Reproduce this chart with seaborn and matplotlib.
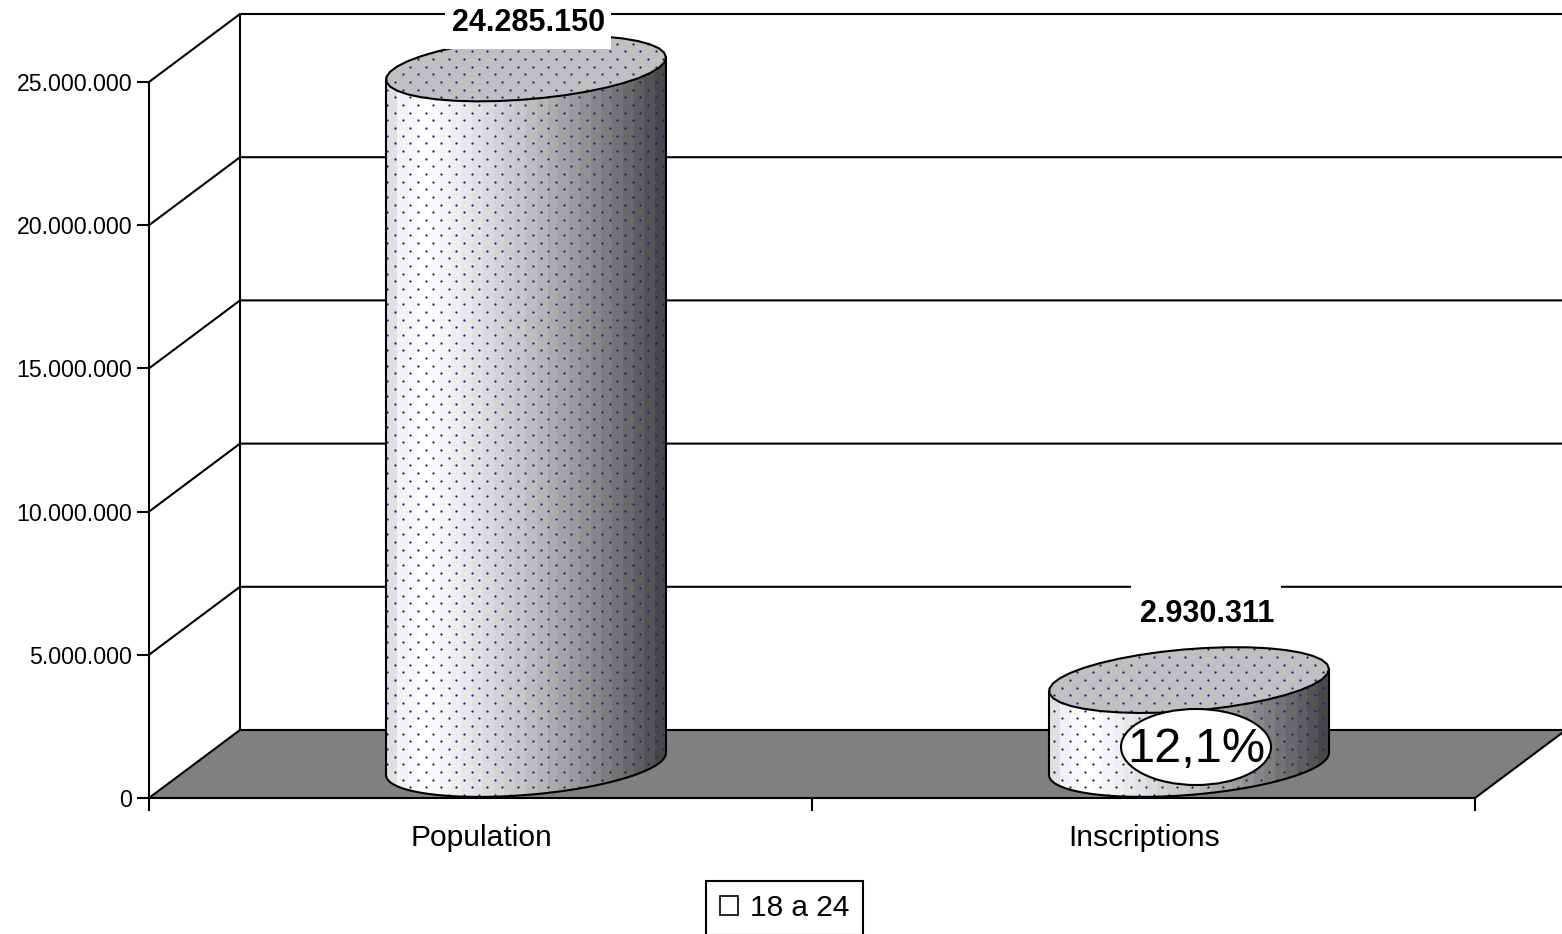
import numpy as np
import pandas as pd
import matplotlib.pyplot as plt
import seaborn as sns
from matplotlib.patches import Polygon, Rectangle, Ellipse, Patch

# Data
categories = ['Population', 'Inscriptions']
values = [24285150, 2930311]
value_labels = ['24.285.150', '2.930.311']
y_ticks = [0, 5000000, 10000000, 15000000, 20000000, 25000000]
y_tick_labels = ['0', '5.000.000', '10.000.000', '15.000.000', '20.000.000', '25.000.000']
series_name = '18 a 24'
share_label = '12,1%'

sns.set_theme(style='white')
plt.rcParams['font.family'] = ['Liberation Sans', 'DejaVu Sans']

W, H = 1562, 934
fig = plt.figure(figsize=(W / 100, H / 100), dpi=100)
ax = fig.add_axes([149 / W, (H - 798) / H, (1475 - 149) / W, (798 - 82) / H])

df = pd.DataFrame({'cat': categories, 'val': values})
sns.barplot(data=df, x='cat', y='val', width=280 / 663, ax=ax)

# size of one pixel in data units
PX = 2 / 1326
PY = 25000000 / 716
DEPTH_X = 91 * PX
DEPTH_Y = 68 * PY
LW = 1.5
X0, X1 = -0.5, 1.5

# floor and back wall
floor = Polygon([(X0, 0), (X0 + DEPTH_X, DEPTH_Y), (X1 + DEPTH_X, DEPTH_Y), (X1, 0)],
                closed=True, facecolor='#808080', edgecolor='black', lw=LW, clip_on=False, zorder=1)
ax.add_patch(floor)
for v in y_ticks[1:]:
    ax.plot([X0, X0 + DEPTH_X, X1 + DEPTH_X], [v, v + DEPTH_Y, v + DEPTH_Y],
            color='black', lw=LW, clip_on=False, zorder=1, solid_joinstyle='miter')
ax.plot([X0 + DEPTH_X] * 2, [DEPTH_Y, 25000000 + DEPTH_Y], color='black', lw=LW, clip_on=False, zorder=1)

# shading across a cylinder, left to right
shade_pos = [0.0, 0.06, 0.14, 0.3, 0.5, 0.68, 0.82, 0.93, 1.0]
shade_val = [0.84, 0.95, 1.0, 0.9, 0.76, 0.6, 0.46, 0.34, 0.26]
n_strips = 26

# dots of the pattern fill
dot_dx = 46 / 3
dot_dy = 23 / 3
dot_x0 = (410.3 - 149) * PX + X0
dot_y0 = (798 - 112.7) * PY


def ellipse_arc(cx, cy, a, t0, t1):
    t = np.linspace(t0, t1, 40)
    return np.column_stack([cx + a * np.cos(t), cy + 31 * PY * np.sin(t) + 11 * PY * np.cos(t)])


bars = [p for p in ax.patches if p is not floor]
for bar in bars:
    a = bar.get_width() / 2
    cx = bar.get_x() + a + DEPTH_X / 2
    base = DEPTH_Y / 2
    top = base + bar.get_height()

    side = Polygon(np.vstack([ellipse_arc(cx, top, a, np.pi, 2 * np.pi),
                              ellipse_arc(cx, base, a, 2 * np.pi, np.pi)]),
                   closed=True, facecolor='none', edgecolor='none', clip_on=False, zorder=3)
    ax.add_patch(side)
    edges = np.linspace(cx - a, cx + a, n_strips + 1)
    mids = (edges[:-1] + edges[1:]) / 2
    shades = np.interp((mids - edges[0]) / (2 * a), shade_pos, shade_val)
    mesh = ax.pcolormesh(edges, [base - 40 * PY, top + 40 * PY], shades[None, :], cmap='gray',
                         vmin=0, vmax=1, zorder=3)
    mesh.set_clip_box(fig.bbox)
    mesh.set_clip_path(side)

    cap = Polygon(ellipse_arc(cx, top, a, 0, 2 * np.pi), closed=True, facecolor='#c0c0c0',
                  edgecolor='none', clip_on=False, zorder=4)
    ax.add_patch(cap)

    outline = np.vstack([ellipse_arc(cx, top, a, np.pi, 0), ellipse_arc(cx, base, a, 2 * np.pi, np.pi)])
    shape = Polygon(outline, closed=True, facecolor='none', edgecolor='none', clip_on=False, zorder=5)
    ax.add_patch(shape)

    # staggered dot grid, same phase for both columns
    rows = np.arange(-200, 200)
    xs, ys = [], []
    for r in rows:
        y = dot_y0 - r * dot_dy * PY
        if y < base - 40 * PY or y > top + 40 * PY:
            continue
        k0 = np.round((cx - dot_x0) / (dot_dx * PX))
        cols = np.arange(k0 - 12, k0 + 13)
        xs.extend(dot_x0 + (cols + 0.5 * (r % 2)) * dot_dx * PX)
        ys.extend([y] * len(cols))
    dots = ax.scatter(xs, ys, s=2.6, color='#1c1c80', linewidths=0, zorder=5)
    dots.set_clip_box(fig.bbox)
    dots.set_clip_path(shape)

    ax.add_patch(Polygon(ellipse_arc(cx, top, a, 0, 2 * np.pi), closed=True, facecolor='none',
                         edgecolor='black', lw=LW, clip_on=False, zorder=6))
    ax.plot(*ellipse_arc(cx, base, a, np.pi, 2 * np.pi).T, color='black', lw=LW, clip_on=False, zorder=6)
    ax.plot([cx - a, cx - a], [base - 11 * PY, top - 11 * PY], color='black', lw=LW, clip_on=False, zorder=6)
    ax.plot([cx + a, cx + a], [base + 11 * PY, top + 11 * PY], color='black', lw=LW, clip_on=False, zorder=6)
    bar.set_visible(False)

# value labels on white boxes, placed by hand like the original
label_dx = [2, 17]
label_dy = [49, 70]
box_w = [166, 150]
box_h = 60
for bar, txt, dx, dy, bw in zip(bars, value_labels, label_dx, label_dy, box_w):
    cx = bar.get_x() + bar.get_width() / 2 + DEPTH_X / 2 + dx * PX
    cy = DEPTH_Y / 2 + bar.get_height() + dy * PY
    ax.add_patch(Rectangle((cx - bw * PX / 2, cy - box_h * PY / 2), bw * PX, box_h * PY,
                           facecolor='white', edgecolor='none', clip_on=False, zorder=7))
    ax.text(cx + 1 * PX, cy - 3.5 * PY, txt, ha='center', va='center', fontsize=22, fontweight='bold',
            color='black', clip_on=False, zorder=8)

# percentage bubble on the second column
bub = bars[1]
bub_x = bub.get_x() + bub.get_width() / 2 + DEPTH_X / 2 + 7 * PX
bub_y = (798 - 747) * PY
ax.add_patch(Ellipse((bub_x, bub_y), 150 * PX, 76 * PY, facecolor='white', edgecolor='black',
                     lw=LW, clip_on=False, zorder=9))
ax.text(bub_x, bub_y - 2 * PY, share_label, ha='center', va='center', fontsize=35, color='black', zorder=10)

# axes
ax.set_xlim(X0, X1)
ax.set_ylim(0, 25000000)
ax.set_xlabel('')
ax.set_ylabel('')
sns.despine(ax=ax, top=True, right=True, bottom=True)
ax.spines['left'].set_linewidth(LW)
ax.spines['left'].set_color('black')
ax.set_yticks(y_ticks)
ax.set_yticklabels(y_tick_labels, fontsize=16.7, color='black')
ax.tick_params(axis='y', length=8.6, width=LW, pad=3.5, color='black', left=True)
ax.set_xticks([X0, 0.5, X1])
ax.set_xticklabels(['', '', ''])
ax.tick_params(axis='x', length=9, width=LW, color='black', bottom=True)
ax.set_xticks([0.0015, 1.0015], minor=True)
ax.set_xticklabels(categories, minor=True, fontsize=21.6, color='black')
ax.tick_params(axis='x', which='minor', length=0, pad=18.5, bottom=False)

handle = Patch(facecolor='white', edgecolor='black', lw=1.2, label=series_name)
leg = fig.legend(handles=[handle], loc='center', bbox_to_anchor=(784.5 / W, (H - 908) / H),
                 fontsize=21.5, labelcolor='black', frameon=True, fancybox=False, edgecolor='black',
                 framealpha=1, handlelength=0.6, handleheight=0.6, handletextpad=0.4, borderpad=0.45,
                 borderaxespad=0)
leg.get_frame().set_linewidth(LW)

fig.savefig('out.png', dpi=100)
plt.close(fig)
